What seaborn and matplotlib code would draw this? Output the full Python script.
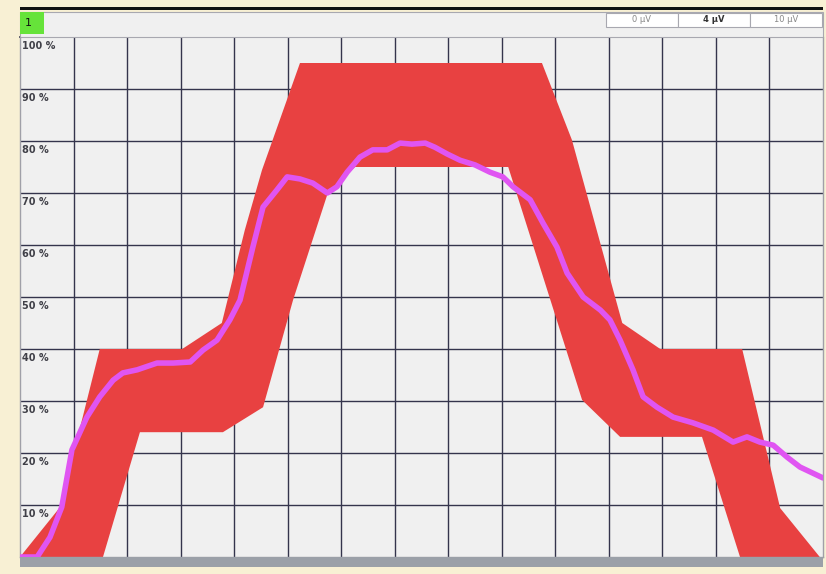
import matplotlib
matplotlib.use("Agg")
import matplotlib.pyplot as plt
import matplotlib.patches as mpatches
import seaborn as sns
import numpy as np
import pandas as pd

# ---- data (x in grid columns 0..15, y in percent) ----
upper_x = [0.0, 0.75, 1.49, 3.03, 3.77, 4.20, 4.52, 5.23, 9.75, 10.31, 11.25, 11.96, 13.49, 14.20, 14.94]
upper_y = [0.0, 9.6, 40.0, 40.0, 45.0, 62.9, 74.4, 95.0, 95.0, 80.2, 45.0, 40.0, 40.0, 9.4, 0.0]
lower_x = [0.0, 1.55, 2.24, 3.79, 4.54, 5.10, 5.75, 6.26, 9.12, 10.50, 11.21, 12.74, 13.45, 14.94]
lower_y = [0.0, 0.0, 24.0, 24.0, 28.8, 49.4, 70.0, 75.0, 75.0, 30.2, 23.1, 23.1, 0.0, 0.0]

curve_x = [0.0, 0.32, 0.56, 0.78, 0.88, 0.97, 1.25, 1.49, 1.74, 1.92, 2.19, 2.56, 2.86, 3.18,
           3.42, 3.68, 3.92, 4.11, 4.35, 4.54, 4.80, 4.99, 5.23, 5.47, 5.74, 5.92, 6.11, 6.35,
           6.59, 6.86, 7.10, 7.32, 7.57, 7.75, 7.98, 8.22, 8.50, 8.78, 9.02, 9.21, 9.53, 9.77,
           10.03, 10.22, 10.52, 10.84, 11.02, 11.21, 11.45, 11.64, 11.90, 12.20, 12.57, 12.95,
           13.32, 13.58, 13.82, 14.07, 14.33, 14.57, 15.0]
curve_y = [0.0, 0.0, 3.8, 9.6, 15.4, 20.6, 26.9, 30.8, 34.0, 35.4, 36.0, 37.3, 37.3, 37.5,
           39.8, 41.7, 45.6, 49.4, 59.6, 67.3, 70.6, 73.1, 72.7, 71.9, 70.0, 71.2, 74.0, 76.9,
           78.3, 78.3, 79.6, 79.4, 79.6, 78.8, 77.5, 76.3, 75.4, 74.0, 73.1, 71.2, 68.7, 64.2,
           59.6, 54.6, 50.0, 47.5, 45.6, 41.7, 36.0, 30.8, 28.8, 26.9, 25.8, 24.4,
           22.1, 23.1, 22.1, 21.5, 19.2, 17.3, 15.2]

y_labels = ["100 %", "90 %", "80 %", "70 %", "60 %", "50 %", "40 %", "30 %", "20 %", "10 %"]
y_label_vals = [100, 90, 80, 70, 60, 50, 40, 30, 20, 10]
header_boxes = ["0 µV", "4 µV", "10 µV"]

# ---- style ----
sns.set_theme(style="white")
plt.rcParams['font.family'] = ['DejaVu Sans']

W, H = 826, 574
fig = plt.figure(figsize=(W / 100, H / 100), dpi=100)
fig.patch.set_facecolor("#f8f0d4")

def fx(px):
    return px / W

def fy(py):
    return 1 - py / H

# axes area: x 20..823 px, y 37..557 px
ax = fig.add_axes([fx(20), fy(557), fx(823) - fx(20), fy(37) - fy(557)])
ax.set_facecolor("#f0f0f0")
ax.set_xlim(0, 15)
ax.set_ylim(0, 100)

# red tolerance band
poly_x = list(upper_x) + list(lower_x[::-1])
poly_y = list(upper_y) + list(lower_y[::-1])
ax.fill(poly_x, poly_y, color="#e84141", lw=0, zorder=2)

# grid
ax.set_xticks(range(1, 15))
ax.set_yticks(range(10, 100, 10))
ax.grid(True, color="#34344c", lw=1.0, zorder=1)
ax.set_axisbelow(True)
ax.tick_params(left=False, bottom=False, labelleft=False, labelbottom=False)
for s in ["left", "right", "bottom"]:
    ax.spines[s].set_color("#a0a0a8")
    ax.spines[s].set_linewidth(1)
ax.spines["top"].set_color("#2c2c44")
ax.spines["top"].set_linewidth(1.2)

# magenta measured curve
df = pd.DataFrame({"x": curve_x, "y": curve_y})
sns.lineplot(data=df, x="x", y="y", ax=ax, color="#e055f2", lw=4.0, zorder=4, sort=False)
ax.set_xlabel("")
ax.set_ylabel("")

# y labels inside
for lab, v in zip(y_labels, y_label_vals):
    ax.text(0.04, v - 0.7, lab, ha="left", va="top", fontsize=7, fontweight="bold",
            color="#404048", zorder=6)

# ---- header and decorations (figure coords) ----
def rect(x0, y0, x1, y1, **kw):
    fig.patches.append(mpatches.Rectangle((fx(x0), fy(y1)), fx(x1) - fx(x0), fy(y0) - fy(y1),
                                          transform=fig.transFigure, **kw))

# top black line
rect(20, 7, 823, 10, facecolor="#111111", edgecolor="none")
# header strip
rect(20, 12, 823, 37, facecolor="#f0f0f0", edgecolor="#a8a8b0", lw=0.8)
# green box
rect(20, 12, 44, 34, facecolor="#66e33a", edgecolor="none")
fig.text(fx(25), fy(23), "1", ha="left", va="center", fontsize=8, color="#111111")
# µV boxes
bx = [606, 678, 750, 822]
for i, lab in enumerate(header_boxes):
    rect(bx[i], 13, bx[i + 1], 27, facecolor="white", edgecolor="#a8a8b0", lw=0.8)
    fig.text(fx((bx[i] + bx[i + 1]) / 2), fy(20), lab, ha="center", va="center",
             fontsize=6, color="#333333" if i == 1 else "#888888",
             fontweight="bold" if i == 1 else "normal")
# bottom gray bar
rect(20, 557, 823, 567, facecolor="#9ba0a8", edgecolor="none")

fig.savefig("out.png", dpi=100, facecolor=fig.get_facecolor())
